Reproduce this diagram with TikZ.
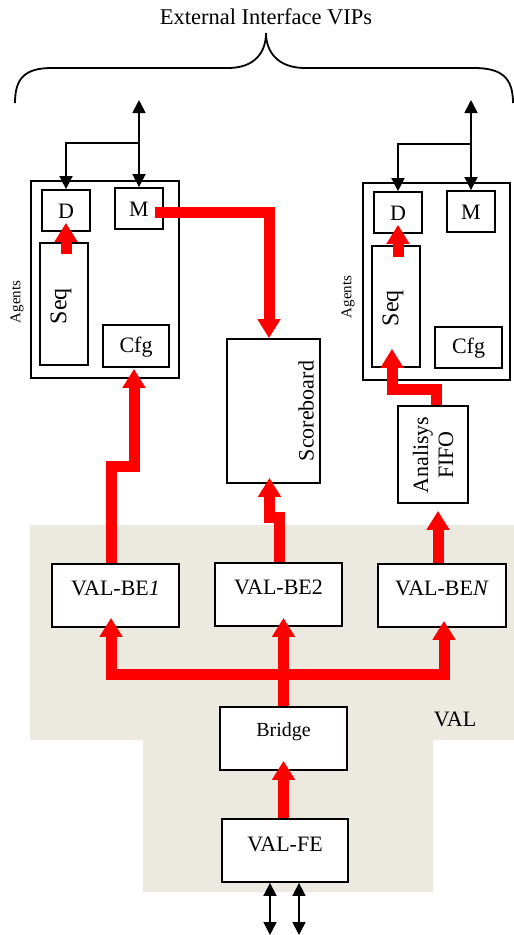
\documentclass[tikz,border=0pt]{standalone}
\usepackage{fontspec}
\setmainfont{Liberation Serif}
\usetikzlibrary{arrows.meta,calc}
\definecolor{valbg}{RGB}{236,233,224}
\definecolor{rd}{RGB}{255,0,0}
\begin{document}
\begin{tikzpicture}[x=1pt,y=-1pt,
  box/.style={draw,line width=1.8pt,fill=white,inner sep=0pt},
  redarr/.style={draw=rd,line width=11pt,line join=miter,-{Triangle[width=22pt,length=19pt]}},
  blk/.style={line width=1.7pt,-{Triangle[width=13pt,length=13pt]}},
  blkb/.style={line width=1.7pt,{Triangle[width=13pt,length=13pt]}-{Triangle[width=13pt,length=13pt]}},
  txt/.style={font=\fontsize{22}{25}\selectfont,inner sep=0pt},
  small/.style={font=\fontsize{15}{17}\selectfont,inner sep=0pt}]

\useasboundingbox (0,0) rectangle (514,935);

% VAL background
\fill[valbg] (30,525) -- (514,525) -- (514,740) -- (433,740) -- (433,892) -- (143,892) -- (143,740) -- (30,740) -- cycle;

% title and brace
\node[txt,font=\fontsize{22.5}{25}\selectfont] (title) at (266,17) {External Interface VIPs};
\draw[line width=1.8pt] (15,103) .. controls (15,78) and (25,68) .. (52,68) -- (228,68)
  .. controls (255,68) and (266,52) .. (266,33)
  .. controls (266,52) and (278,68) .. (305,68) -- (474,68)
  .. controls (502,68) and (513,78) .. (513,103);

% left agent
\node[box,minimum width=148pt,minimum height=197pt] (ag1) at (105,279.5) {};
\node[box,minimum width=48pt,minimum height=41pt] (d1) at (66,210.5) {};
\node[box,minimum width=48pt,minimum height=41pt] (m1) at (139,208.5) {};
\node[box,minimum width=48pt,minimum height=122pt] (seq1) at (64,304) {};
\node[box,minimum width=66pt,minimum height=42pt] (cfg1) at (136,346) {};
\node[txt] (d1t) at (66,211) {D};
\node[txt] (m1t) at (139,209) {M};
\node[txt,rotate=90,font=\fontsize{24}{26}\selectfont] (seq1t) at (61,306) {Seq};
\node[txt] (cfg1t) at (136,347) {Cfg};
\node[small,rotate=90] (ag1t) at (17,302) {Agents};

% right agent
\node[box,minimum width=147pt,minimum height=197pt] (ag2) at (436.5,281.5) {};
\node[box,minimum width=48pt,minimum height=41pt] (d2) at (398,212.5) {};
\node[box,minimum width=48pt,minimum height=41pt] (m2) at (471,211.5) {};
\node[box,minimum width=48pt,minimum height=121pt] (seq2) at (396,306.5) {};
\node[box,minimum width=67pt,minimum height=41pt] (cfg2) at (468.5,347.5) {};
\node[txt] (d2t) at (398,213) {D};
\node[txt] (m2t) at (471,212) {M};
\node[txt,rotate=90,font=\fontsize{24}{26}\selectfont] (seq2t) at (393,308) {Seq};
\node[txt] (cfg2t) at (468.5,348) {Cfg};
\node[small,rotate=90] (ag2t) at (348,297) {Agents};

% scoreboard and fifo
\node[box,minimum width=93pt,minimum height=144pt] (sb) at (273.5,411) {};
\node[txt,rotate=90] (sbt) at (306,411) {Scoreboard};
\node[box,minimum width=70pt,minimum height=97pt] (fifo) at (433,454.5) {};
\node[txt,rotate=90,align=center] (fifot) at (433,455) {Analisys\\FIFO};

% VAL blocks
\node[box,minimum width=127pt,minimum height=63pt] (be1) at (115.5,595.5) {};
\node[box,minimum width=127pt,minimum height=63pt] (be2) at (278.5,594.5) {};
\node[box,minimum width=128pt,minimum height=63pt] (ben) at (442,595.5) {};
\node[box,minimum width=127pt,minimum height=63pt] (bridge) at (283.5,738.5) {};
\node[box,minimum width=126pt,minimum height=63pt] (fe) at (285,850.5) {};
\node[txt] (be1t) at (115.5,588.5) {VAL-BE\textit{1}};
\node[txt] (be2t) at (278.5,587.5) {VAL-BE2};
\node[txt] (bent) at (442,588.5) {VAL-BE\textit{N}};
\node[txt,font=\fontsize{20}{22}\selectfont] (bridget) at (283.5,732) {Bridge};
\node[txt] (fet) at (285,844) {VAL-FE};
\node[txt] (valt) at (455,719) {VAL};

% black connectors
\coordinate (top1) at (139,100);
\coordinate (top2) at (471,100);
\coordinate (io1) at (270,935);
\coordinate (io2) at (299,935);
\draw[blkb] (top1) -- (m1.north);
\draw[blk] (m1.north |- 0,143) -| (d1.north);
\draw[blkb] (top2) -- (m2.north);
\draw[blk] (m2.north |- 0,144) -| (d2.north);
\draw[blkb] (io1 |- fe.south) -- (io1);
\draw[blkb] (io2 |- fe.south) -- (io2);

% red connectors
\draw[redarr] ([xshift=-9pt,yshift=-3.5pt]m1.east) -| ([xshift=-4.5pt]sb.north);
\draw[redarr] ([yshift=-12pt]seq1.north -| d1.south) -- ([yshift=9pt]d1.south);
\draw[redarr] ([yshift=-12pt]seq2.north -| d2.south) -- ([yshift=9pt]d2.south);
\draw[redarr] ([xshift=3pt]fifo.north) -- ++(0,-16) -| ([xshift=-4pt,yshift=19pt]seq2.south);
\draw[redarr] ([xshift=-4.5pt]be1.north) -- ++(0,-97) -| ([xshift=-2pt,yshift=-1pt]cfg1.south);
\draw[redarr] ([xshift=0.5pt]be2.north) -- ++(0,-45) -| ([xshift=-4pt,yshift=6pt]sb.south);
\draw[redarr] ([xshift=-4pt]ben.north) -- ([xshift=5pt,yshift=-7pt]fifo.south);
\draw[redarr] (bridge.north) -- ++(0,-32) -| ([xshift=-4.5pt,yshift=10pt]be1.south);
\draw[redarr] (bridge.north) -- ++(0,-32) -| ([xshift=2pt,yshift=7pt]ben.south);
\draw[redarr] (bridge.north) -- ($(bridge.north |- be2.south)+(0,-9)$);
\draw[redarr] ([xshift=-1.5pt]fe.north) -- ([yshift=10pt]bridge.south);
\end{tikzpicture}
\end{document}
